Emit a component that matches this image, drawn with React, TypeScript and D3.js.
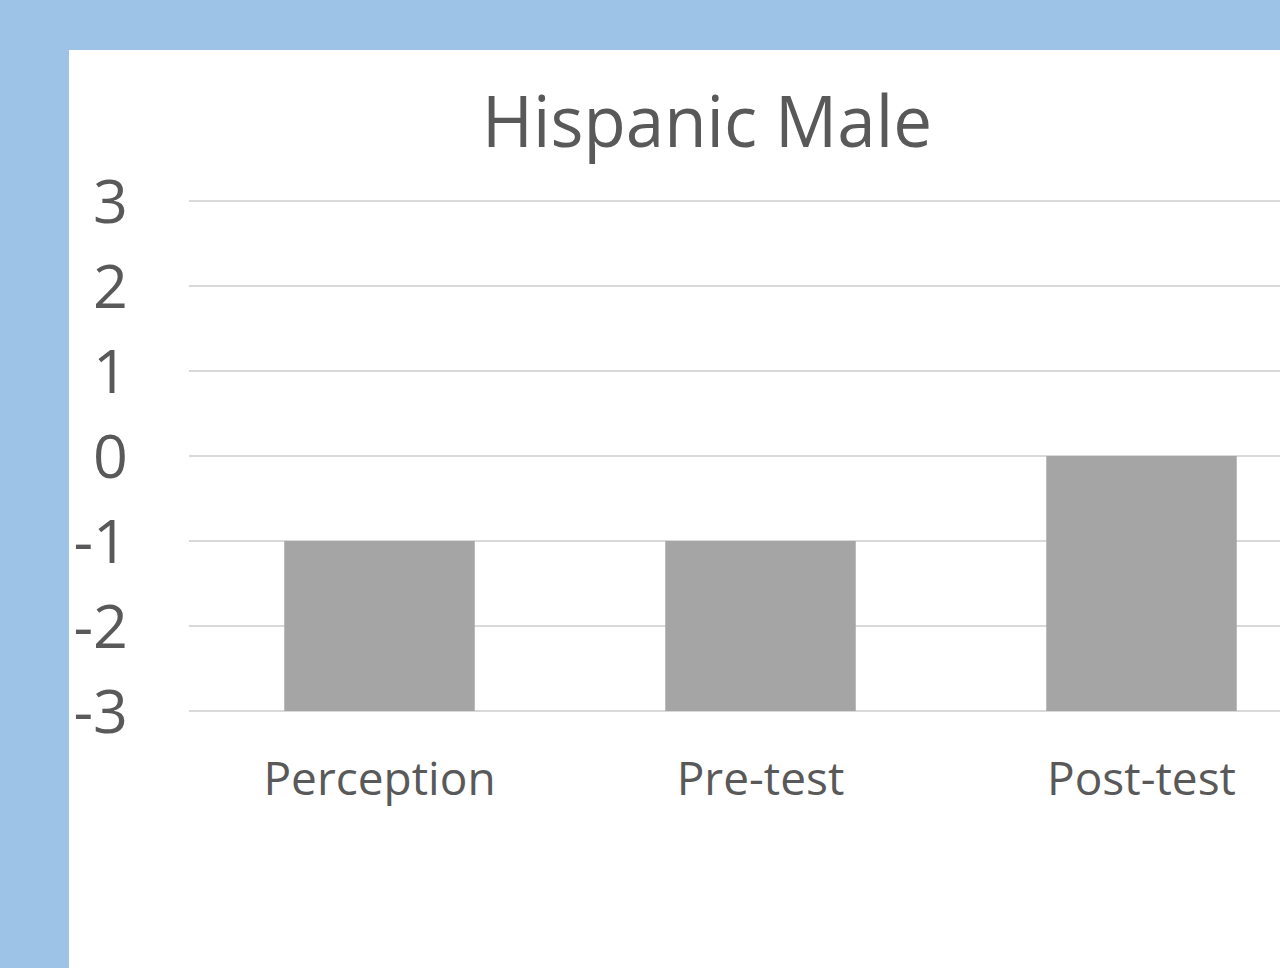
import React, { useEffect } from "react";
import * as d3 from "d3";

const categories = ["Perception", "Pre-test", "Post-test"];
const values = [-1, -1, 0];
const yTicks = [3, 2, 1, 0, -1, -2, -3];
const title = "Hispanic Male";

const W = 1280;
const H = 968;
const FONT = "'Open Sans', 'Noto Sans', sans-serif";
const TEXT = "#595959";

export default function App() {
  useEffect(() => {
    document.body.style.margin = "0";
    document.body.style.overflow = "hidden";
  }, []);

  const x = d3
    .scaleBand<string>()
    .domain(categories)
    .range([189, 1332])
    .paddingInner(0.5)
    .paddingOuter(0.25);
  const y = d3.scaleLinear().domain([-3, 3]).range([711, 201]);
  const base = y.domain()[0];

  return (
    <svg width={W} height={H} style={{ position: "absolute", left: 0, top: 0 }}>
      <rect x={0} y={0} width={W} height={H} fill="#9DC3E6" />
      <rect x={69} y={50} width={W - 69} height={H - 50} fill="#FFFFFF" />
      <text
        x={707}
        y={147}
        textAnchor="middle"
        fontFamily={FONT}
        fontSize={72}
        fill={TEXT}
        textLength={450}
        lengthAdjust="spacingAndGlyphs"
      >
        {title}
      </text>
      {yTicks.map((t) => (
        <g key={t}>
          <line x1={189} x2={W} y1={y(t)} y2={y(t)} stroke="#D9D9D9" strokeWidth={2} />
          <text
            x={128}
            y={y(t) + 22}
            textAnchor="end"
            fontFamily={FONT}
            fontSize={61}
            fill={TEXT}
          >
            {t}
          </text>
        </g>
      ))}
      {categories.map((c, i) => (
        <rect
          key={c}
          x={x(c)}
          width={x.bandwidth()}
          y={y(Math.max(values[i], base))}
          height={y(base) - y(values[i])}
          fill="#A5A5A5"
        />
      ))}
      {categories.map((c) => (
        <text
          key={c}
          x={(x(c) as number) + x.bandwidth() / 2}
          y={795}
          textAnchor="middle"
          fontFamily={FONT}
          fontSize={46}
          fill={TEXT}
        >
          {c}
        </text>
      ))}
    </svg>
  );
}
